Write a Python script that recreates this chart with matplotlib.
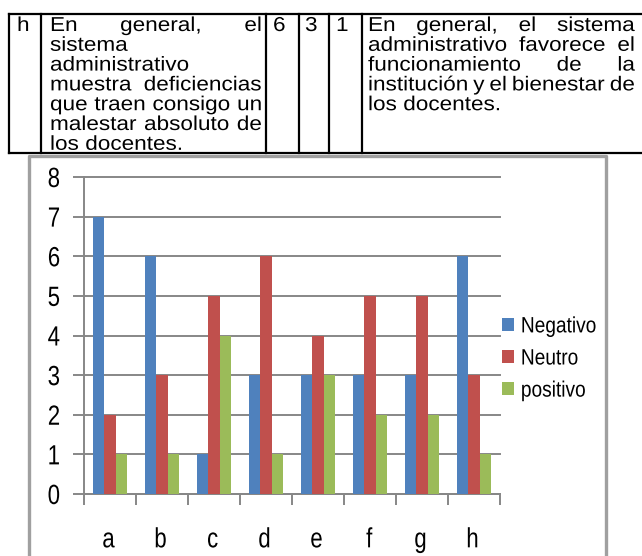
import matplotlib.pyplot as plt
import numpy as np
from matplotlib.patheffects import AbstractPathEffect
from matplotlib.transforms import Affine2D

categories = ['a', 'b', 'c', 'd', 'e', 'f', 'g', 'h']
negativo = [7, 6, 1, 3, 3, 3, 3, 6]
neutro = [2, 3, 5, 6, 4, 5, 5, 3]
positivo = [1, 1, 4, 1, 3, 2, 2, 1]
series_names = ['Negativo', 'Neutro', 'positivo']
colors = ['#4F81BD', '#C0504D', '#9BBB59']

left_lines = ["En general, el", "sistema", "administrativo", "muestra deficiencias",
              "que traen consigo un", "malestar absoluto de", "los docentes."]
right_lines = ["En general, el sistema", "administrativo favorece el",
               "funcionamiento de la", "institución y el bienestar de",
               "los docentes."]

plt.rcParams['font.family'] = ['Liberation Sans', 'DejaVu Sans']
TABLE_SIZE = 14.5
TABLE_SX = 1.12   # table glyphs are a little wide
CHART_SX = 0.8    # chart glyphs are condensed
GRID = '#878787'


class Condense(AbstractPathEffect):
    """Scale glyph outlines horizontally around the text origin."""

    def __init__(self, sx):
        super().__init__()
        self.sx = sx

    def draw_path(self, renderer, gc, tpath, affine, rgbFace=None):
        renderer.draw_path(gc, tpath, Affine2D().scale(self.sx, 1) + affine, rgbFace)


W, H = 642, 556
fig = plt.figure(figsize=(W / 100, H / 100), dpi=100)

# full-figure axes in pixel units for the table row and the chart frame
bg = fig.add_axes([0, 0, 1, 1])
bg.set_xlim(0, W)
bg.set_ylim(H, 0)
bg.axis('off')
renderer = fig.canvas.get_renderer()

top, bottom = 14, 153
for yy in (top, bottom):
    bg.plot([9, W], [yy, yy], color='black', lw=1.6, solid_capstyle='projecting')
for xx in (9, 41, 266, 299, 329, 362):
    bg.plot([xx, xx], [top, bottom], color='black', lw=1.6, solid_capstyle='projecting')

# chart frame
bg.plot([29, 29, 606, 606], [H + 5, 156, 156, H + 5], color='#A0A0A0', lw=2.4)


def table_text(x, y, s):
    return bg.text(x, y, s, fontsize=TABLE_SIZE, va='baseline',
                   path_effects=[Condense(TABLE_SX)])


def put_line(words, x0, x1, y, justify):
    texts = [table_text(0, y, w) for w in words]
    widths = [t.get_window_extent(renderer).width * TABLE_SX for t in texts]
    if justify and len(words) > 1:
        gap = (x1 - x0 - sum(widths)) / (len(words) - 1)
    else:
        gap = TABLE_SIZE * 100 / 72 * 0.278 * TABLE_SX
    x = x0
    for t, w in zip(texts, widths):
        t.set_x(x)
        x += w + gap


def put_paragraph(lines, x0, x1, y0, step=19.8):
    for i, line in enumerate(lines):
        last = i == len(lines) - 1
        put_line(line.split(), x0, x1, y0 + i * step, not last)


base = 31
table_text(17, base, categories[-1])
put_paragraph(left_lines, 50, 262, base)
for xx, v in zip((273, 305, 336), (negativo[-1], neutro[-1], positivo[-1])):
    table_text(xx, base, str(v))
put_paragraph(right_lines, 368, 635, base)

# clustered bar chart
ax = fig.add_axes([84 / W, (H - 494) / H, (500 - 84) / W, (494 - 177) / H])
ax.patch.set_visible(False)
x = np.arange(len(categories)) + 0.5
width = 0.222
for k, (vals, color, name) in enumerate(zip((negativo, neutro, positivo), colors, series_names)):
    ax.bar(x + (k - 1) * width, vals, width, color=color, label=name, zorder=3)

ax.set_xlim(0, 8)
ax.set_ylim(0, 8)
ax.set_yticks(range(9))
ax.yaxis.grid(True, color=GRID, lw=1.4)
ax.set_axisbelow(True)
for line in ax.get_ygridlines():
    line.set_clip_on(False)

ax.set_xticks(range(9))
ax.set_xticklabels([])
ax.set_xticks(x, minor=True)
ax.set_xticklabels(categories, minor=True)
ax.tick_params(axis='x', which='major', direction='out', length=8, width=1.4, color=GRID)
ax.tick_params(axis='x', which='minor', length=0, pad=24, labelsize=20)
ax.tick_params(axis='y', direction='out', length=8, width=1.4, color=GRID, pad=7, labelsize=20)
for side in ('top', 'right'):
    ax.spines[side].set_visible(False)
for side in ('left', 'bottom'):
    ax.spines[side].set_color(GRID)
    ax.spines[side].set_linewidth(1.4)
for lbl in ax.get_yticklabels() + ax.get_xticklabels(minor=True):
    lbl.set_path_effects([Condense(CHART_SX)])

handles, labels = ax.get_legend_handles_labels()
leg = fig.legend(handles, labels, loc='center left', bbox_to_anchor=(502 / W, 1 - 359 / H),
                 frameon=False, fontsize=16, handlelength=0.55, handleheight=0.55,
                 handletextpad=0.3, labelspacing=0.5, borderpad=0, borderaxespad=0)
for t in leg.get_texts():
    t.set_path_effects([Condense(0.86)])

fig.savefig('out.png', dpi=100)
